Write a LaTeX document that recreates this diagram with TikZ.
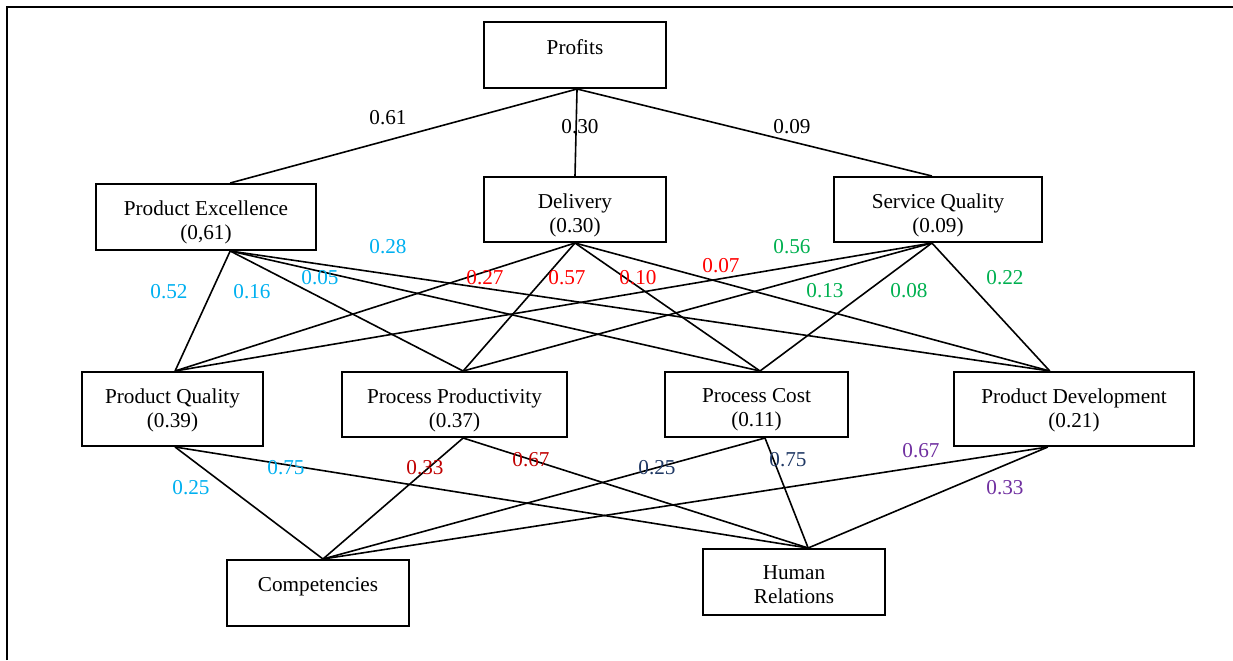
\documentclass[tikz,border=0pt]{standalone}
\usepackage{fontspec}
\setmainfont{Liberation Serif}
\usetikzlibrary{calc}
\definecolor{lc}{HTML}{00B0F0}
\definecolor{lr}{HTML}{FF0000}
\definecolor{lg}{HTML}{00B050}
\definecolor{ldr}{HTML}{C00000}
\definecolor{ldb}{HTML}{1F3864}
\definecolor{lp}{HTML}{7030A0}
\tikzset{
  every node/.style={font=\fontsize{10.6}{12.2}\selectfont},
  box/.style={draw, line width=1pt, inner sep=0pt},
  txt/.style={inner sep=0pt, align=center, anchor=north},
  link/.style={line width=0.8pt},
  wlabel/.style={inner sep=0pt},
}
\begin{document}
\begin{tikzpicture}[x=0.5pt,y=-0.5pt]
\useasboundingbox (0,0) rectangle (1233,660);
\draw[line width=1pt] (7,660) -- (7,7) -- (1233,7);
% boxes
\node[box, minimum width=91pt, minimum height=33pt] (profits) at (575,55) {};
\node[box, minimum width=110pt, minimum height=33pt] (pe) at (206,217) {};
\node[box, minimum width=91pt, minimum height=32.5pt] (del) at (575,209.5) {};
\node[box, minimum width=104pt, minimum height=32.5pt] (sq) at (938,209.5) {};
\node[box, minimum width=90.5pt, minimum height=37pt] (pq) at (172.5,409) {};
\node[box, minimum width=112.5pt, minimum height=32.5pt] (pp) at (454.5,404.5) {};
\node[box, minimum width=91.5pt, minimum height=32.5pt] (pc) at (756.5,404.5) {};
\node[box, minimum width=120pt, minimum height=37pt] (pd) at (1074,409) {};
\node[box, minimum width=91pt, minimum height=33pt] (comp) at (318,593) {};
\node[box, minimum width=91pt, minimum height=33pt] (hr) at (794,582) {};
% box texts
\node[txt] (profits-l) at ($(profits.north)+(0,18)$) {Profits};
\node[txt] (pe-l) at ($(pe.north)+(0,17)$) {Product Excellence\\(0,61)};
\node[txt] (del-l) at ($(del.north)+(0,17)$) {Delivery\\(0.30)};
\node[txt] (sq-l) at ($(sq.north)+(0,17)$) {Service Quality\\(0.09)};
\node[txt] (pq-l) at ($(pq.north)+(0,17)$) {Product Quality\\(0.39)};
\node[txt] (pp-l) at ($(pp.north)+(0,17)$) {Process Productivity\\(0.37)};
\node[txt] (pc-l) at ($(pc.north)+(0,17)$) {Process Cost\\(0.11)};
\node[txt] (pd-l) at ($(pd.north)+(0,17)$) {Product Development\\(0.21)};
\node[txt] (comp-l) at ($(comp.north)+(0,18)$) {Competencies};
\node[txt] (hr-l) at ($(hr.north)+(0,17)$) {Human\\Relations};
% attach points
\coordinate (profits-b) at ($(profits.south west)!0.511!(profits.south east)$);
\coordinate (pe-t) at ($(pe.north west)!0.609!(pe.north east)$);
\coordinate (pe-b) at ($(pe.south west)!0.609!(pe.south east)$);
\coordinate (del-t) at (del.north);
\coordinate (del-b) at (del.south);
\coordinate (sq-t) at ($(sq.north west)!0.471!(sq.north east)$);
\coordinate (sq-b) at ($(sq.south west)!0.471!(sq.south east)$);
\coordinate (pq-t) at ($(pq.north west)!0.514!(pq.north east)$);
\coordinate (pq-b) at ($(pq.south west)!0.514!(pq.south east)$);
\coordinate (pp-t) at ($(pp.north west)!0.538!(pp.north east)$);
\coordinate (pp-b) at ($(pp.south west)!0.538!(pp.south east)$);
\coordinate (pc-t) at ($(pc.north west)!0.519!(pc.north east)$);
\coordinate (pc-b) at ($(pc.south west)!0.546!(pc.south east)$);
\coordinate (pd-t) at ($(pd.north west)!0.4!(pd.north east)$);
\coordinate (pd-b) at ($(pd.south west)!0.392!(pd.south east)$);
\coordinate (comp-t) at ($(comp.north west)!0.527!(comp.north east)$);
\coordinate (hr-t) at ($(hr.north west)!0.577!(hr.north east)$);
% connectors
\draw[link] (profits-b) -- (pe-t);
\draw[link] (profits-b) -- (del-t);
\draw[link] (profits-b) -- (sq-t);
\foreach \s in {pe-b,del-b,sq-b}{
  \foreach \t in {pq-t,pp-t,pc-t,pd-t}{
    \draw[link] (\s) -- (\t);
  }
}
\foreach \s in {pq-b,pp-b,pc-b,pd-b}{
  \draw[link] (\s) -- (comp-t);
  \draw[link] (\s) -- (hr-t);
}
% labels
\node[wlabel] (w1) at (388,118) {0.61};
\node[wlabel] (w2) at (580,127) {0.30};
\node[wlabel] (w3) at (792,127) {0.09};
\node[wlabel, text=lc] (w4) at (169,292) {0.52};
\node[wlabel, text=lc] (w5) at (252,292) {0.16};
\node[wlabel, text=lc] (w6) at (320,278) {0.05};
\node[wlabel, text=lc] (w7) at (388,247) {0.28};
\node[wlabel, text=lr] (w8) at (485,278) {0.27};
\node[wlabel, text=lr] (w9) at (567,278) {0.57};
\node[wlabel, text=lr] (w10) at (638,278) {0.10};
\node[wlabel, text=lr] (w11) at (721,266) {0.07};
\node[wlabel, text=lg] (w12) at (792,247) {0.56};
\node[wlabel, text=lg] (w13) at (825,291) {0.13};
\node[wlabel, text=lg] (w14) at (909,291) {0.08};
\node[wlabel, text=lg] (w15) at (1005,278) {0.22};
\node[wlabel, text=lc] (w16) at (191,488) {0.25};
\node[wlabel, text=lc] (w17) at (286,468) {0.75};
\node[wlabel, text=ldr] (w18) at (425,468) {0.33};
\node[wlabel, text=ldr] (w19) at (531,460) {0.67};
\node[wlabel, text=ldb] (w20) at (657,468) {0.25};
\node[wlabel, text=ldb] (w21) at (788,460) {0.75};
\node[wlabel, text=lp] (w22) at (921,451) {0.67};
\node[wlabel, text=lp] (w23) at (1005,488) {0.33};
\end{tikzpicture}
\end{document}
